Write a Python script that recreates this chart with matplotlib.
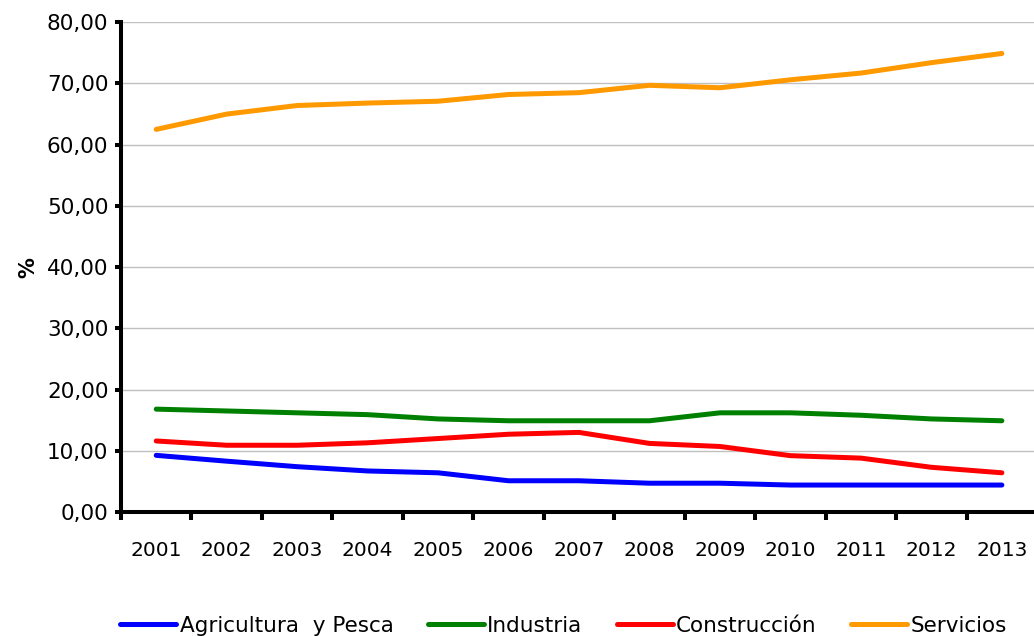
import numpy as np
import matplotlib.pyplot as plt

# Distribución del empleo por sectores (%)
years = ['2001', '2002', '2003', '2004', '2005', '2006', '2007',
         '2008', '2009', '2010', '2011', '2012', '2013']
agricultura = [9.25, 8.3, 7.4, 6.7, 6.4, 5.1, 5.1, 4.7, 4.7, 4.4, 4.4, 4.4, 4.4]
industria = [16.8, 16.5, 16.2, 15.9, 15.2, 14.9, 14.9, 14.9, 16.2, 16.2, 15.8, 15.2, 14.9]
construccion = [11.6, 10.9, 10.9, 11.3, 12.0, 12.7, 13.0, 11.2, 10.7, 9.2, 8.8, 7.3, 6.4]
servicios = [62.5, 65.0, 66.4, 66.8, 67.1, 68.2, 68.5, 69.7, 69.3, 70.6, 71.7, 73.4, 74.9]

series = [
    ('Agricultura  y Pesca', agricultura, '#0000ff'),
    ('Industria', industria, '#008000'),
    ('Construcción', construccion, '#ff0000'),
    ('Servicios', servicios, '#ff9900'),
]

fig = plt.figure(figsize=(10.34, 6.36), dpi=100)
ax = fig.add_axes([0.117, 0.195, 0.886, 0.770])

x = np.arange(len(years))
for name, vals, col in series:
    ax.plot(x, vals, color=col, linewidth=3.6, label=name, solid_capstyle='round')

ax.set_xlim(-0.5, len(years) - 0.5)
ax.set_ylim(0, 80)
ax.set_yticks(np.arange(0, 81, 10))
ax.set_yticklabels([f'{v:.2f}'.replace('.', ',') for v in np.arange(0, 81, 10)])
ax.grid(axis='y', color='#c0c0c0', linewidth=1)
ax.set_axisbelow(True)

# labels in the middle, tick marks between the years
ax.set_xticks(x)
ax.set_xticklabels(years)
ax.set_xticks(np.arange(-0.5, len(years), 1), minor=True)
ax.tick_params(axis='x', which='major', length=0, pad=21, labelsize=14.5)
ax.tick_params(axis='x', which='minor', length=6, width=2.9, direction='out')
ax.tick_params(axis='y', length=4, width=2.9, labelsize=15.5, pad=5)

for side in ['top', 'right']:
    ax.spines[side].set_visible(False)
for side in ['left', 'bottom']:
    ax.spines[side].set_linewidth(2.9)

ax.set_ylabel('%', fontsize=15, fontweight='bold', labelpad=6)

fig.legend(loc='lower center', bbox_to_anchor=(0.545, -0.03), ncol=4, frameon=False,
           handlelength=2.6, columnspacing=1.6, handletextpad=0.15,
           prop={'family': 'DejaVu Sans', 'size': 15.5})

fig.savefig('out.png', dpi=100)
